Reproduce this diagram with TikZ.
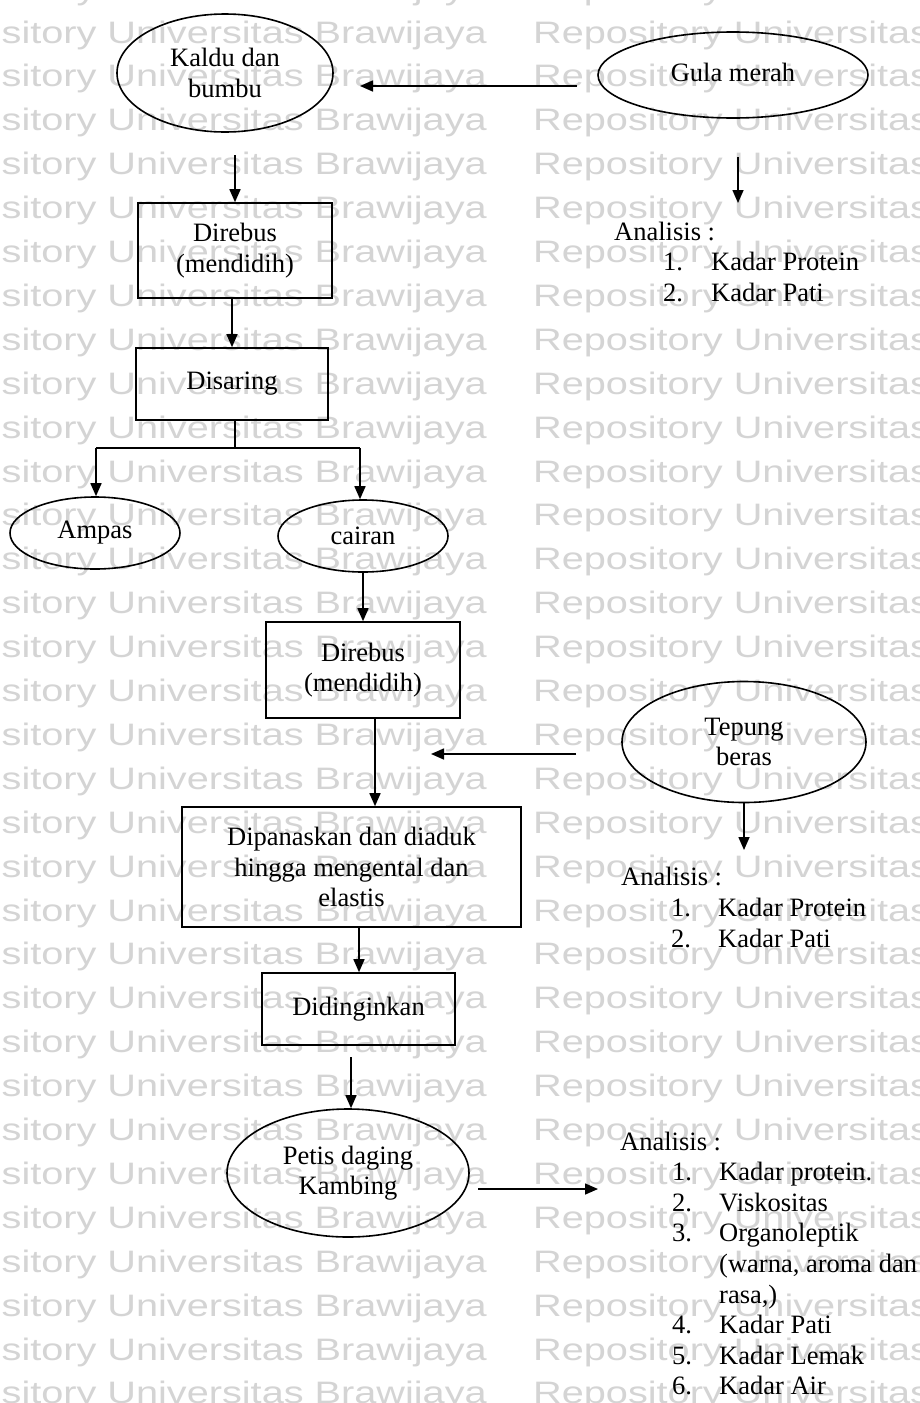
\documentclass[tikz,border=0pt]{standalone}
\usepackage{fontspec}
\setmainfont{Liberation Serif}
\newfontfamily\wmfont{Liberation Sans}
\usetikzlibrary{arrows.meta,shapes.geometric}
\begin{document}
\begin{tikzpicture}[x=1pt,y=1pt,
  font=\fontsize{26.5}{30.5}\selectfont,
  box/.style={draw, line width=1.6pt, rectangle, inner sep=0pt, align=center},
  oval/.style={draw, line width=1.6pt, ellipse, inner sep=0pt, align=center},
  arr/.style={line width=1.6pt, -{Triangle[length=13pt,width=11pt]}},
  ln/.style={line width=1.6pt},
  txt/.style={anchor=base west, inner sep=0pt},
  wm/.style={inner sep=0pt, text=black!17, font=\wmfont\fontsize{31}{31}\selectfont}]
\useasboundingbox (0,0) rectangle (919,-1403);
\fill[white] (0,0) rectangle (919,-1403);
% watermark
\begin{scope}
\clip (0,0) rectangle (919,-1403);
\foreach \k in {-1,...,31}{
  \node[wm, anchor=base east] (wl\k) at (487,{-(43+43.9*\k)}) {\scalebox{1.28}[1]{Repository Universitas Brawijaya}};
  \node[wm, anchor=base west] (wr\k) at (533,{-(43+43.9*\k)}) {\scalebox{1.28}[1]{Repository Universitas Brawijaya}};
}
\end{scope}
% nodes
\node[oval, minimum width=216, minimum height=118] (kaldu) at (225,-73) {Kaldu dan\\bumbu};
\node[oval, minimum width=270, minimum height=86] (gula) at (733,-75) {\raisebox{6pt}{Gula merah}};
\node[box, minimum width=194, minimum height=95] (direbusA) at (235,-250.5) {Direbus\\(mendidih)};
\node[box, minimum width=192, minimum height=72] (disaring) at (232,-384) {\raisebox{7pt}{Disaring}};
\node[oval, minimum width=170, minimum height=72] (ampas) at (95,-533) {Ampas};
\node[oval, minimum width=170, minimum height=72] (cairan) at (363,-536) {cairan};
\node[box, minimum width=194, minimum height=96] (direbusB) at (363,-670) {Direbus\\(mendidih)};
\node[oval, minimum width=244, minimum height=121] (tepung) at (744,-742) {Tepung\\beras};
\node[box, minimum width=339, minimum height=120] (dipanas) at (351.5,-867) {Dipanaskan dan diaduk\\hingga mengental dan\\elastis};
\node[box, minimum width=193, minimum height=72] (didingin) at (358.5,-1009) {\raisebox{5pt}{Didinginkan}};
\node[oval, minimum width=242, minimum height=128] (petis) at (348,-1173) {Petis daging\\Kambing};
% analysis 1
\node[txt] (anA) at (614,-240) {Analisis :};
\node[txt] (anA1n) at (663,-270) {1.};
\node[txt] (anA1t) at (711,-270) {Kadar Protein};
\node[txt] (anA2n) at (663,-301) {2.};
\node[txt] (anA2t) at (711,-301) {Kadar Pati};
% analysis 2
\node[txt] (anB) at (621,-885) {Analisis :};
\node[txt] (anB1n) at (671,-916) {1.};
\node[txt] (anB1t) at (718,-916) {Kadar Protein};
\node[txt] (anB2n) at (671,-947) {2.};
\node[txt] (anB2t) at (718,-947) {Kadar Pati};
% analysis 3
\node[txt] (anC) at (620,-1150) {Analisis :};
\node[txt] (anC1n) at (672,-1180.6) {1.};
\node[txt] (anC1t) at (719,-1180.6) {Kadar protein.};
\node[txt] (anC2n) at (672,-1211.2) {2.};
\node[txt] (anC2t) at (719,-1211.2) {Viskositas};
\node[txt] (anC3n) at (672,-1241.8) {3.};
\node[txt] (anC3t) at (719,-1241.8) {Organoleptik};
\node[txt] (anC3u) at (719,-1272.4) {(warna, aroma dan};
\node[txt] (anC3v) at (719,-1303) {rasa,)};
\node[txt] (anC4n) at (672,-1333.6) {4.};
\node[txt] (anC4t) at (719,-1333.6) {Kadar Pati};
\node[txt] (anC5n) at (672,-1364.2) {5.};
\node[txt] (anC5t) at (719,-1364.2) {Kadar Lemak};
\node[txt] (anC6n) at (672,-1394.8) {6.};
\node[txt] (anC6t) at (719,-1394.8) {Kadar Air};
% coordinates
\coordinate (gulaL) at (577,-86);
\coordinate (kalduR) at (360,-86);
\coordinate (gulaB) at (738,-157);
\coordinate (anAtop) at (738,-203);
\coordinate (kalduB) at (235,-155);
\coordinate (dax) at (232,-298);
\coordinate (br) at (235,-448);
\coordinate (brL) at (96,-448);
\coordinate (brR) at (360,-448);
\coordinate (dbx) at (375,-718);
\coordinate (tepL) at (576,-754);
\coordinate (tepTip) at (431,-754);
\coordinate (anBtop) at (743,-850);
\coordinate (dpx) at (359,-927);
\coordinate (ddx) at (351,-1057);
\coordinate (ptR) at (478,-1189);
\coordinate (anCL) at (598,-1189);
% connectors
\draw[arr] (gulaL) -- (kalduR);
\draw[arr] (gulaB) -- (anAtop);
\draw[arr] (kalduB) -- (kalduB |- direbusA.north);
\draw[arr] (dax) -- (dax |- disaring.north);
\draw[ln] (br |- disaring.south) -- (br);
\draw[ln] (brL) -- (brR);
\draw[arr] (brL) -- (brL |- ampas.north);
\draw[arr] (brR) -- (brR |- cairan.north);
\draw[arr] (cairan.south) -- (cairan.south |- direbusB.north);
\draw[arr] (dbx) -- (dbx |- dipanas.north);
\draw[arr] (tepL) -- (tepTip);
\draw[arr] (tepung.south) -- (tepung.south |- anBtop);
\draw[arr] (dpx) -- (dpx |- didingin.north);
\draw[arr] (ddx) -- (ddx |- petis.north);
\draw[arr] (ptR) -- (anCL);
\end{tikzpicture}
\end{document}
